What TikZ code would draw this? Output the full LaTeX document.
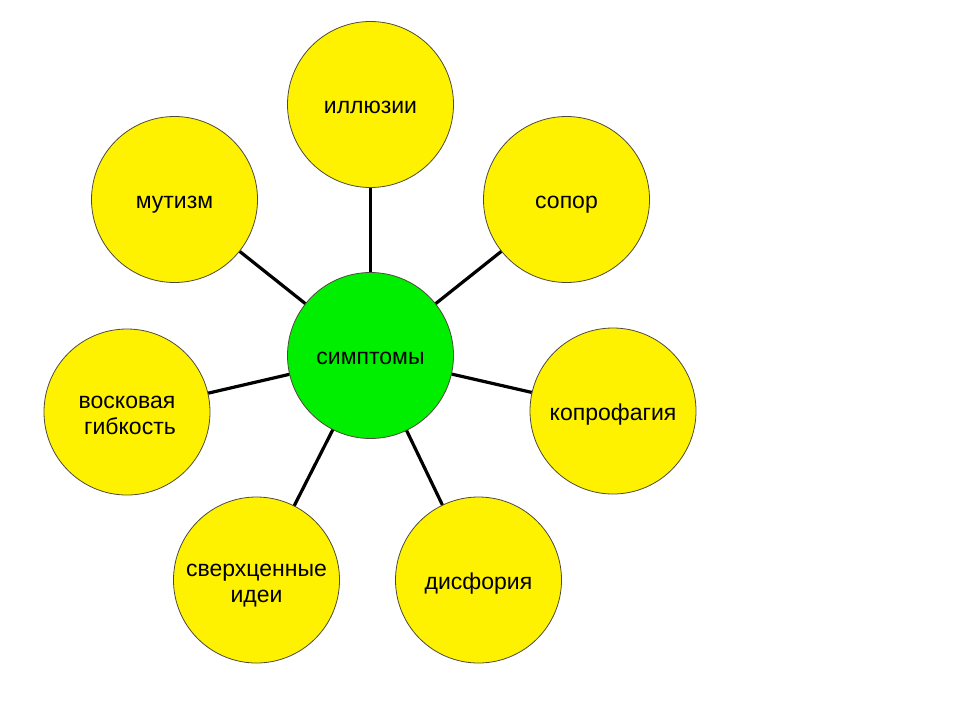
\documentclass[tikz,border=0pt]{standalone}
\usepackage{fontspec}
\setmainfont{Liberation Sans}
\newcommand{\lbl}[1]{\raisebox{-4pt}[\height][\depth]{\begin{tabular}{@{}c@{}}#1\end{tabular}}}
\begin{document}
\begin{tikzpicture}[x=1pt,y=-1pt,
  bubble/.style={circle, draw=black!80!yellow, line width=0.8pt, minimum size=166pt, inner sep=0pt, font=\fontsize{23}{26.5}\selectfont},
  leaf/.style={bubble, fill=yellow},
  hub/.style={bubble, fill={rgb,255:red,0;green,238;blue,0}},
  spoke/.style={line width=3.2pt, black}]
\useasboundingbox (0,0) rectangle (960,720);
\node[hub] (c) at (370.5,355.5) {\lbl{симптомы}};
\node[leaf] (a1) at (370.5,104.5) {\lbl{иллюзии}};
\node[leaf] (a2) at (566.5,199.5) {\lbl{сопор}};
\node[leaf] (a3) at (613,411) {\lbl{копрофагия}};
\node[leaf] (a4) at (478.5,580) {\lbl{дисфория}};
\node[leaf] (a5) at (256.5,580) {\lbl{сверхценные\\идеи}};
\node[leaf] (a6) at (127,412) {\lbl{восковая\\\hspace*{6pt}гибкость}};
\node[leaf] (a7) at (174.5,199.5) {\lbl{мутизм}};
\foreach \n in {a1,a2,a3,a4,a5,a6,a7} \draw[spoke] (c) -- (\n);
\end{tikzpicture}
\end{document}
